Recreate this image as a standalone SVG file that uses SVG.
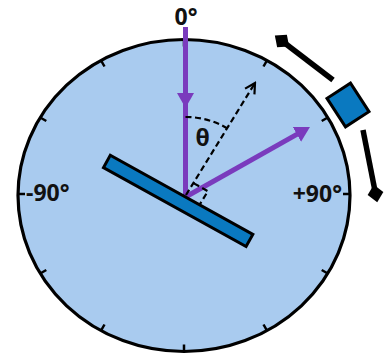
<svg xmlns="http://www.w3.org/2000/svg" width="385" height="358" viewBox="0 0 385 358">
  <style>
    .lbl { font-family: "Open Sans", "Liberation Sans", sans-serif; font-weight: 700; font-size: 23px; fill: #111; }
    .tick { stroke: #000; stroke-width: 2.5; fill: none; }
    .beam { stroke: #7a3bbd; stroke-width: 5; fill: none; }
    .dash { stroke: #000; stroke-width: 2.2; stroke-dasharray: 6 3.5; fill: none; }
    .move { stroke: #000; stroke-width: 5.5; fill: none; }
    .blue { fill: #0a79c0; stroke: #000; stroke-width: 3; }
  </style>
  <defs>
    <marker id="purpleHead" viewBox="0 -9 15 18" refX="3" refY="0" markerWidth="15" markerHeight="18" markerUnits="userSpaceOnUse" orient="auto">
      <path d="M0,-8.5 L15,0 L0,8.5 z" fill="#7a3bbd"/>
    </marker>
    <marker id="openHead" viewBox="-12 -8 14 16" refX="0" refY="0" markerWidth="14" markerHeight="16" markerUnits="userSpaceOnUse" orient="auto">
      <path d="M-10,-5.5 L0,0 L-10,5.5" fill="none" stroke="#000" stroke-width="2.2" stroke-dasharray="none"/>
    </marker>
    <marker id="diamond" viewBox="-10 -10 20 20" refX="0" refY="0" markerWidth="20" markerHeight="20" markerUnits="userSpaceOnUse" orient="auto">
      <path d="M-9,0 L0,-8 L9,0 L0,8 z" fill="#000"/>
    </marker>
  </defs>

  <g id="dial">
    <ellipse cx="184" cy="195.5" rx="166" ry="156" fill="#a9cbef" stroke="#000" stroke-width="3.2"/>
    <path class="tick" d="M267,60.4 L263.5,66.5 M327.8,117.5 L321.7,121 M350,194 L343,194 M327.8,273.5 L321.7,270 M267,330.6 L263.5,324.5 M184,351.5 L184,344.5 M101,330.6 L104.5,324.5 M40.2,273.5 L46.3,270 M18,194 L25,194 M40.2,117.5 L46.3,121 M101,60.4 L104.5,66.5 M184,39.5 L184,46.5"/>
  </g>

  <g id="labels">
    <text class="lbl" x="186" y="25" text-anchor="middle">0°</text>
    <text class="lbl" x="26" y="201">-90°</text>
    <text class="lbl" x="342" y="202" text-anchor="end">+90°</text>
    <text class="lbl" x="202.5" y="146" text-anchor="middle" font-size="22">θ</text>
  </g>

  <g id="connectors">
    <path class="beam" d="M185.5,27 V96" marker-end="url(#purpleHead)"/>
    <path class="beam" d="M185.5,95 V197"/>
    <path class="beam" d="M185.5,197 L299.5,132.9" marker-end="url(#purpleHead)"/>
    <path class="dash" d="M186,195 L255,83" marker-end="url(#openHead)"/>
    <path class="dash" d="M185.5,117 A80,80 0 0 1 227.5,128.5"/>
    <path class="dash" d="M193.9,183.4 L207.9,191.2 L199.5,204.8"/>
    <path class="move" d="M333,80 L282,41" marker-end="url(#diamond)"/>
    <path class="move" d="M363,130 L375.5,193.5" marker-end="url(#diamond)"/>
  </g>

  <g id="mirror">
    <rect class="blue" x="-86" y="0" width="163" height="14" transform="translate(185.5,197) rotate(29)"/>
  </g>

  <g id="detector">
    <rect class="blue" x="-17" y="-14" width="34" height="28" transform="translate(348,105) rotate(57)"/>
  </g>
</svg>
